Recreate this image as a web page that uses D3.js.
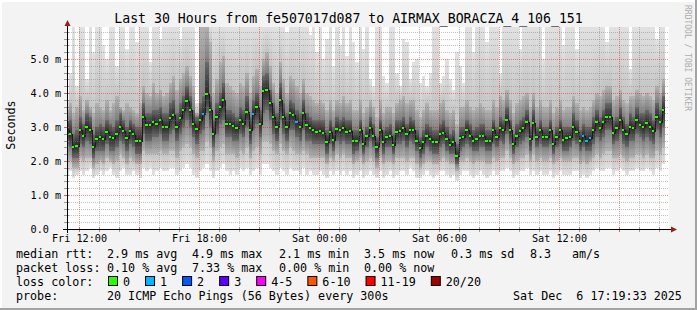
<!DOCTYPE html>
<html>
<head>
<meta charset="utf-8">
<script src="https://cdn.jsdelivr.net/npm/d3@7/dist/d3.min.js"></script>
<style>
body { margin: 0; background: #f3f3f3; }
svg { display: block; font-family: "DejaVu Sans Mono", monospace; }
text { white-space: pre; }
</style>
</head>
<body>
<svg id="chart" width="697" height="310"></svg>
<script>
'use strict';

var title = 'Last 30 Hours from fe507017d087 to AIRMAX_BORACZA_4_106_151';
var unitLabel = 'Seconds';
var watermark = 'RRDTOOL / TOBI OETIKER';

// first 10 minute step (UTC), one value per step below
var firstStep = Date.UTC(2025, 11, 5, 11, 29);
var stepMinutes = 10;
var viewStart = Date.UTC(2025, 11, 5, 11, 24);
var viewEnd = Date.UTC(2025, 11, 6, 17, 24);

// median rtt in ms
var median = [
	2.9,2.8,2.4,2.45,2.9,2.75,3.0,2.9,2.4,2.65,2.7,2.65,2.85,2.7,2.68,2.8,3.0,2.88,2.68,2.88,2.78,2.6,2.6,3.3,3.05,3.06,3.15,3.1,3.2,3.0,
	3.0,3.26,3.35,3.0,3.26,3.5,3.75,3.5,3.1,2.95,3.2,3.38,3.96,3.5,2.8,3.3,3.6,3.8,3.1,3.1,3.02,2.97,3.22,3.1,3.45,2.9,3.38,3.6,3.1,4.05,
	4.1,3.7,3.3,3.0,3.8,3.3,3.0,3.4,3.35,3.15,3.0,3.4,3.05,2.97,2.9,2.85,2.88,2.83,2.55,2.85,2.63,2.95,2.9,2.97,2.85,2.88,2.58,2.6,2.9,2.5,
	2.73,2.97,2.75,2.4,2.9,2.55,2.7,2.73,2.48,2.85,2.88,2.97,2.78,2.92,2.9,2.6,2.38,2.55,2.75,2.65,2.55,2.55,2.8,2.83,2.65,2.48,2.57,2.15,2.68,2.72,
	2.9,2.73,2.6,2.65,2.75,2.75,2.6,2.6,2.9,2.7,2.97,2.9,3.2,2.9,2.5,2.75,2.88,2.97,3.15,2.65,3.13,2.7,2.9,2.7,2.7,2.9,2.5,2.7,2.9,2.63,
	2.68,2.7,3.0,2.85,2.6,2.73,2.6,2.68,2.9,3.15,2.97,3.15,3.3,3.3,2.82,2.97,3.2,2.9,2.78,3.0,2.97,3.2,3.06,3.0,3.13,3.0,2.88,3.3,3.15,3.5
];

// lost pings (of 20) per step
var lossCount = [
	0,0,0,0,0,0,0,0,0,0,0,0,0,0,0,0,0,0,0,0,0,0,0,0,0,0,0,0,0,0,
	0,0,0,0,0,0,0,0,0,0,0,1,0,0,0,0,0,0,0,0,0,0,0,0,0,0,1,0,0,0,
	0,0,0,0,0,0,0,0,0,1,0,0,0,0,0,0,0,0,0,0,0,0,0,0,0,0,0,0,0,0,
	0,0,0,0,0,0,0,0,0,0,0,0,0,0,0,0,0,0,0,0,0,0,0,0,0,0,0,0,0,0,
	0,0,0,0,0,0,0,0,0,0,0,0,0,0,0,0,0,0,0,0,0,0,0,0,0,0,0,0,0,0,
	0,0,0,0,0,1,1,1,0,0,0,0,0,0,0,0,0,0,0,0,0,0,0,0,0,0,0,0,0,0
];

// smoke: fastest / slowest ping per step
var minRtt = [
	1.6,1.7,1.5,1.6,1.7,1.6,1.7,1.8,1.5,1.6,1.7,1.6,1.7,1.8,1.6,1.5,1.7,1.8,1.6,1.6,1.7,1.6,1.5,1.8,1.7,1.8,1.6,1.7,1.8,1.7,
	1.7,1.8,1.8,1.6,1.7,1.8,1.9,1.8,1.6,1.5,1.7,1.8,1.9,1.7,1.5,1.7,1.8,1.9,1.7,1.6,1.7,1.6,1.8,1.7,1.8,1.6,1.7,1.8,1.6,1.9,
	1.9,1.8,1.7,1.6,1.8,1.7,1.6,1.8,1.7,1.7,1.6,1.8,1.6,1.7,1.6,1.6,1.7,1.6,1.5,1.7,1.6,1.7,1.6,1.7,1.6,1.7,1.5,1.6,1.7,1.5,
	1.6,1.7,1.6,1.5,1.7,1.5,1.6,1.7,1.5,1.6,1.7,1.7,1.6,1.8,1.7,1.5,1.5,1.6,1.7,1.6,1.5,1.6,1.7,1.7,1.6,1.5,1.6,1.4,1.6,1.7,
	1.7,1.6,1.5,1.6,1.7,1.6,1.5,1.6,1.7,1.6,1.7,1.7,1.8,1.7,1.5,1.6,1.7,1.7,1.8,1.6,1.7,1.6,1.7,1.6,1.6,1.7,1.5,1.6,1.7,1.6,
	1.6,1.6,1.7,1.7,1.5,1.6,1.5,1.6,1.7,1.8,1.7,1.7,1.8,1.8,1.6,1.7,1.8,1.7,1.6,1.7,1.7,1.8,1.7,1.7,1.8,1.7,1.6,1.8,1.7,1.9
];
var maxRtt = [
	3.8,4.6,6,4.2,6,6,4.4,6,5.2,6,6,5.4,5.0,6,6,4.8,6,6,5.3,6,6,5.5,6,6,6,4.9,6,6,5.6,6,
	6,6,6,6,5.6,6,6,6,6,3.7,6,6,6,6,6,6,6,6,6,6,6,6,6,6,6,6,6,6,6,6,
	6,6,6,6,6,6,5.8,6,6,6,6,6,6,5.7,6,5.2,6,5.0,5.6,6,4.8,6,5.4,6,5.1,6,5.5,4.9,6,5.3,
	6,4.4,4.2,6,6,4.5,4.3,6,6,4.6,4.2,5.6,5.5,4.4,4.9,5.0,4.3,4.5,4.2,4.6,6,6,4.3,4.5,5.0,4.4,4.1,5.2,4.8,4.3,
	6,6,5.2,6,6,6,5.5,6,6,6,4.6,6,6,6,6,6,5.3,6,6,6,6,6,6,5.0,6,6,6,6,6,5.4,
	6,6,6,5.3,6,6,6,6,6,6,6,6,5.5,6,6,6,6,6,6,4.7,6,6,6,6,6,6,6,5.6,6,6
];
// 2nd and 19th ping
var p10 = [
	2.0,2.0,1.8,1.8,2.1,2.0,2.1,2.1,1.8,1.9,2.0,1.9,2.1,2.0,1.9,2.0,2.2,2.1,1.9,2.1,2.0,1.9,1.9,2.3,2.2,2.2,2.2,2.2,2.3,2.2,
	2.2,2.3,2.3,2.1,2.3,2.4,2.5,2.4,2.2,2.1,2.3,2.3,2.6,2.4,2.0,2.3,2.4,2.5,2.2,2.2,2.2,2.1,2.3,2.2,2.4,2.1,2.3,2.4,2.2,2.6,
	2.6,2.5,2.3,2.2,2.5,2.3,2.2,2.4,2.3,2.2,2.2,2.3,2.2,2.1,2.1,2.1,2.1,2.1,1.9,2.1,2.0,2.2,2.1,2.2,2.1,2.1,1.9,2.0,2.1,1.9,
	2.0,2.1,2.0,1.8,2.1,1.9,2.0,2.0,1.9,2.1,2.1,2.1,2.0,2.1,2.1,1.9,1.8,1.9,2.0,2.0,1.9,1.9,2.0,2.1,2.0,1.9,1.9,1.7,2.0,2.0,
	2.1,2.0,1.9,2.0,2.0,2.0,1.9,1.9,2.1,2.0,2.1,2.1,2.3,2.1,1.9,2.0,2.1,2.1,2.2,2.0,2.2,2.0,2.1,2.0,2.0,2.1,1.9,2.0,2.1,2.0,
	2.0,2.0,2.1,2.1,1.9,2.0,1.9,2.0,2.1,2.2,2.1,2.2,2.3,2.3,2.1,2.1,2.2,2.1,2.0,2.1,2.1,2.2,2.2,2.1,2.2,2.1,2.1,2.3,2.2,2.4
];
var p90 = [
	3.5,3.7,3.4,3.6,3.9,3.5,3.8,3.6,3.4,3.7,3.6,3.5,3.8,3.5,3.7,3.9,3.6,3.5,3.7,3.6,3.5,3.4,3.7,4.2,4.0,3.9,4.3,4.0,4.1,3.9,
	4.0,4.3,4.5,4.1,4.4,4.6,4.8,4.5,4.2,3.4,6,6,6,5.5,4.0,4.4,4.9,5.1,4.3,4.2,4.1,4.0,4.3,4.2,4.6,4.0,4.5,4.7,4.2,5.0,
	5.2,4.8,4.3,4.0,4.9,4.4,4.0,4.5,4.4,4.2,4.0,4.4,4.0,3.9,3.8,3.7,3.8,3.7,3.5,3.8,3.5,3.8,3.7,3.9,3.7,3.8,3.5,3.5,3.8,3.4,
	3.6,3.8,3.6,3.3,3.8,3.4,3.6,3.6,3.4,3.7,3.8,3.9,3.7,3.8,3.8,3.5,3.3,3.5,3.7,3.5,3.5,3.5,3.7,3.8,3.5,3.4,3.5,3.1,3.6,3.6,
	3.8,3.6,3.5,3.6,3.7,3.6,3.5,3.5,3.8,3.6,3.9,3.8,4.1,3.8,3.4,3.7,3.8,3.9,4.0,3.6,4.0,3.6,3.8,3.6,3.6,3.8,3.4,3.6,3.8,3.5,
	3.6,3.6,3.9,3.7,3.5,3.6,3.5,3.6,3.8,4.0,3.9,4.1,4.2,4.2,3.8,3.9,4.1,3.8,3.7,3.9,3.9,4.1,4.0,3.9,4.0,3.9,3.8,4.2,4.0,4.4
];
// pings around the median
var p30 = [
	2.5,2.4,2.1,2.1,2.5,2.4,2.6,2.5,2.1,2.3,2.3,2.3,2.5,2.3,2.3,2.4,2.6,2.5,2.3,2.5,2.4,2.2,2.2,2.8,2.6,2.6,2.7,2.7,2.8,2.6,
	2.6,2.8,2.9,2.6,2.8,3.0,3.2,3.0,2.7,2.5,2.8,2.9,3.4,3.0,2.4,2.8,3.1,3.2,2.7,2.7,2.6,2.6,2.8,2.7,3.0,2.5,2.9,3.1,2.7,3.4,
	3.5,3.2,2.8,2.6,3.2,2.8,2.6,2.9,2.9,2.7,2.6,2.9,2.6,2.6,2.5,2.5,2.5,2.5,2.2,2.5,2.3,2.6,2.5,2.6,2.5,2.5,2.2,2.3,2.5,2.2,
	2.4,2.6,2.4,2.1,2.5,2.2,2.4,2.4,2.2,2.5,2.5,2.6,2.4,2.6,2.5,2.3,2.1,2.2,2.4,2.3,2.2,2.2,2.4,2.5,2.3,2.2,2.2,1.9,2.3,2.4,
	2.5,2.4,2.3,2.3,2.4,2.4,2.3,2.3,2.5,2.4,2.6,2.5,2.8,2.5,2.2,2.4,2.5,2.6,2.7,2.3,2.7,2.4,2.5,2.4,2.4,2.5,2.2,2.4,2.5,2.3,
	2.3,2.4,2.6,2.5,2.3,2.4,2.3,2.3,2.5,2.7,2.6,2.7,2.9,2.9,2.5,2.6,2.8,2.5,2.4,2.6,2.6,2.8,2.7,2.6,2.7,2.6,2.5,2.9,2.7,3.0
];
var p70 = [
	3.2,3.2,2.8,2.9,3.3,3.1,3.4,3.3,2.8,3.0,3.1,3.0,3.2,3.1,3.0,3.2,3.4,3.2,3.0,3.2,3.1,3.0,3.0,3.7,3.4,3.4,3.5,3.5,3.6,3.4,
	3.4,3.7,3.8,3.4,3.7,3.9,4.2,3.9,3.5,3.3,3.7,3.9,4.9,3.9,3.2,3.7,4.0,4.3,3.5,3.5,3.4,3.3,3.6,3.5,3.9,3.3,3.8,4.0,3.5,4.5,
	4.6,4.1,3.7,3.4,4.3,3.7,3.4,3.8,3.7,3.5,3.4,3.8,3.4,3.3,3.2,3.2,3.2,3.2,2.9,3.2,3.0,3.3,3.2,3.3,3.2,3.2,2.9,2.9,3.2,2.8,
	3.0,3.3,3.1,2.7,3.2,2.9,3.0,3.1,2.8,3.2,3.2,3.3,3.1,3.3,3.2,2.9,2.7,2.9,3.1,3.0,2.9,2.9,3.1,3.2,3.0,2.8,2.9,2.5,3.0,3.0,
	3.2,3.1,2.9,3.0,3.1,3.1,2.9,2.9,3.2,3.0,3.3,3.2,3.6,3.2,2.8,3.1,3.2,3.3,3.5,3.0,3.5,3.0,3.2,3.0,3.0,3.2,2.8,3.0,3.2,3.0,
	3.0,3.0,3.4,3.2,2.9,3.1,3.0,3.0,3.3,3.5,3.3,3.5,3.7,3.7,3.2,3.3,3.6,3.3,3.1,3.4,3.3,3.6,3.4,3.4,3.5,3.4,3.2,3.7,3.5,3.9
];

var yTicks = [0, 1, 2, 3, 4, 5];
var yMax = 5.9;

var rttSummary = ['2.9 ms avg', '4.9 ms max', '2.1 ms min', '3.5 ms now', '0.3 ms sd'];
var rttRate = ['8.3', 'am/s'];
var lossSummary = ['0.10 % avg', '7.33 % max', '0.00 % min', '0.00 % now'];
var lossLabels = ['0', '1', '2', '3', '4-5', '6-10', '11-19', '20/20'];
var lossUpper = [0, 1, 2, 3, 5, 10, 19, 20];
var lossColors = ['#26ff00', '#00b8ff', '#0059ff', '#5e00ff', '#ff00ff', '#ff5500', '#ff0000', '#a00000'];
var probeText = '20 ICMP Echo Pings (56 Bytes) every 300s';
var stampText = 'Sat Dec  6 17:19:33 2025';

var svg = d3.select('#chart');
var W = 697, H = 310;
var plot = {left: 67, right: 667, top: 27, bottom: 229};
var stepMs = stepMinutes * 60000;
var charW = 7.05;

var xscale = d3.scaleUtc()
	.domain([new Date(viewStart), new Date(viewEnd)])
	.range([plot.left, plot.right]);

var yscale = d3.scaleLinear()
	.domain([0, yMax])
	.range([plot.bottom, plot.bottom - yMax * 34]);

var times = median.map(function(d, i) {
	return new Date(firstStep + i * stepMs);
});

var lossColor = function(n) {
	for (var k = 0; k < lossUpper.length; k++) {
		if (n <= lossUpper[k]) return lossColors[k];
	}
	return lossColors[lossColors.length - 1];
};

// frame
svg.append('rect').attr('width', W).attr('height', H).attr('fill', '#f3f3f3');
svg.append('rect').attr('x', 0).attr('y', 0).attr('width', W).attr('height', 2).attr('fill', '#ffffff');
svg.append('rect').attr('x', 0).attr('y', 0).attr('width', 2).attr('height', H).attr('fill', '#ffffff');
svg.append('rect').attr('x', W - 2).attr('y', 0).attr('width', 2).attr('height', H).attr('fill', '#a3a3a3');
svg.append('rect').attr('x', 0).attr('y', H - 2).attr('width', W).attr('height', 2).attr('fill', '#a3a3a3');

// canvas
svg.append('rect')
	.attr('x', plot.left).attr('y', plot.top)
	.attr('width', plot.right - plot.left + 2).attr('height', plot.bottom - plot.top)
	.attr('fill', '#ffffff');

var defs = svg.append('defs');
defs.append('clipPath').attr('id', 'plot-clip')
	.append('rect')
	.attr('x', plot.left).attr('y', plot.top)
	.attr('width', plot.right - plot.left + 2).attr('height', plot.bottom - plot.top);

var x0 = function(t) { return Math.round(xscale(t - stepMs)); };
var x1 = function(t) { return Math.round(xscale(t)); };

// smoke, each layer fades from its inner (dark) edge to its outer (light) edge
var layers = [
	{outer: maxRtt, inner: p90, cOut: '#e2e2e2', cIn: '#c4c4c4'},
	{outer: minRtt, inner: p10, cOut: '#e2e2e2', cIn: '#c4c4c4'},
	{outer: p90, inner: p70, cOut: '#b4b4b4', cIn: '#7e7e7e'},
	{outer: p10, inner: p30, cOut: '#b4b4b4', cIn: '#7e7e7e'},
	{outer: p70, inner: median, cOut: '#6a6a6a', cIn: '#2a2a2a'},
	{outer: p30, inner: median, cOut: '#6a6a6a', cIn: '#2a2a2a'}
];

layers.forEach(function(l, k) {
	var up = k % 2 === 0;
	var grad = defs.append('linearGradient')
		.attr('id', 'fade' + k)
		.attr('x1', 0).attr('y1', 0).attr('x2', 0).attr('y2', 1);
	grad.append('stop').attr('offset', 0).attr('stop-color', up ? l.cOut : l.cIn);
	grad.append('stop').attr('offset', 1).attr('stop-color', up ? l.cIn : l.cOut);
});

var smoke = svg.append('g')
	.attr('clip-path', 'url(#plot-clip)')
	.attr('shape-rendering', 'crispEdges');

layers.forEach(function(l, k) {
	var top = function(i) { return Math.round(yscale(Math.max(l.outer[i], l.inner[i]))); };
	var bot = function(i) { return Math.round(yscale(Math.min(l.outer[i], l.inner[i]))); };
	smoke.append('g').selectAll('rect')
		.data(times)
	.enter().append('rect')
		.attr('x', x0)
		.attr('width', function(t) { return x1(t) - x0(t); })
		.attr('y', function(t, i) { return top(i); })
		.attr('height', function(t, i) { return Math.max(0, bot(i) - top(i)); })
		.attr('fill', 'url(#fade' + k + ')');
});

var stepLine = d3.line()
	.curve(d3.curveStepBefore)
	.x(function(t) { return x1(t); })
	.y(function(t, i) { return Math.round(yscale(median[i])); });

smoke.append('path')
	.attr('d', stepLine(times))
	.attr('fill', 'none')
	.attr('stroke', '#1c1c1c')
	.attr('stroke-width', 1);

// grid
var grid = svg.append('g').attr('shape-rendering', 'crispEdges');
var minorColor = 'rgba(120,120,120,0.45)';
var majorColor = 'rgba(225,0,0,0.42)';

var hours = d3.utcHour.every(1).range(xscale.domain()[0], xscale.domain()[1]);
hours.forEach(function(h) {
	var major = h.getUTCHours() % 3 === 0;
	grid.append('line')
		.attr('x1', xscale(h) + 0.5).attr('x2', xscale(h) + 0.5)
		.attr('y1', plot.top).attr('y2', plot.bottom)
		.attr('stroke', major ? majorColor : minorColor)
		.attr('stroke-dasharray', '1,1');
	grid.append('line')
		.attr('x1', xscale(h) + 0.5).attr('x2', xscale(h) + 0.5)
		.attr('y1', plot.bottom - 2).attr('y2', plot.bottom + 3)
		.attr('stroke', major ? '#e06060' : '#9a9a9a');
});

d3.range(1, 30).forEach(function(k) {
	var v = k / 5;
	var major = k % 5 === 0;
	var yy = Math.round(yscale(v)) + 0.5;
	grid.append('line')
		.attr('x1', plot.left).attr('x2', plot.right + 2)
		.attr('y1', yy).attr('y2', yy)
		.attr('stroke', major ? majorColor : minorColor)
		.attr('stroke-dasharray', '1,1');
	grid.append('line')
		.attr('x1', plot.left - 3).attr('x2', plot.left + 2)
		.attr('y1', yy).attr('y2', yy)
		.attr('stroke', major ? '#e06060' : '#9a9a9a');
});

// median coloured by loss
svg.append('g')
	.attr('clip-path', 'url(#plot-clip)')
	.attr('shape-rendering', 'crispEdges')
	.selectAll('rect')
	.data(times)
.enter().append('rect')
	.attr('x', x0)
	.attr('width', function(t) { return Math.max(2, x1(t) - x0(t) - 1); })
	.attr('y', function(t, i) { return Math.round(yscale(median[i])) - 1; })
	.attr('height', 2)
	.attr('fill', function(t, i) { return lossColor(lossCount[i]); });

// axes
var axisColor = '#000000';
svg.append('line')
	.attr('x1', plot.left - 4).attr('x2', plot.right + 4)
	.attr('y1', plot.bottom + 0.5).attr('y2', plot.bottom + 0.5)
	.attr('stroke', axisColor);
svg.append('line')
	.attr('x1', plot.left + 0.5).attr('x2', plot.left + 0.5)
	.attr('y1', plot.bottom + 4).attr('y2', plot.top - 2)
	.attr('stroke', axisColor);
svg.append('path')
	.attr('d', d3.line()([[plot.left + 0.5, 20], [plot.left - 2.5, 26], [plot.left + 3.5, 26]]) + 'Z')
	.attr('fill', '#9b1c1c');
svg.append('path')
	.attr('d', d3.line()([[plot.right + 10, plot.bottom + 0.5], [plot.right + 4, plot.bottom - 2.5], [plot.right + 4, plot.bottom + 3.5]]) + 'Z')
	.attr('fill', '#9b1c1c');

var xAxis = svg.append('g')
	.attr('transform', 'translate(0,' + plot.bottom + ')')
	.call(d3.axisBottom(xscale)
		.ticks(d3.utcHour.every(6))
		.tickFormat(d3.utcFormat('%a %H:%M'))
		.tickSize(0)
		.tickPadding(5.5));
xAxis.select('.domain').remove();
xAxis.selectAll('text')
	.style('font-family', '"DejaVu Sans Mono", monospace')
	.style('font-size', '10.2px')
	.attr('fill', '#000');

var yAxis = svg.append('g')
	.attr('transform', 'translate(' + plot.left + ',0)')
	.call(d3.axisLeft(yscale)
		.tickValues(yTicks)
		.tickFormat(function(d) { return d === 0 ? '0.0' : d.toFixed(1) + ' m'; })
		.tickSize(0));
yAxis.select('.domain').remove();
yAxis.selectAll('text')
	.attr('x', 30.5 - plot.left)
	.attr('text-anchor', 'start')
	.style('font-family', '"DejaVu Sans Mono", monospace')
	.style('font-size', '10.2px')
	.attr('fill', '#000');

// titles
svg.append('text')
	.attr('x', W / 2).attr('y', 23)
	.attr('text-anchor', 'middle')
	.style('font-size', '13.2px')
	.attr('fill', '#000')
	.text(title);

svg.append('text')
	.attr('transform', 'translate(15,' + ((plot.top + plot.bottom) / 2 - 3) + ') rotate(-90)')
	.attr('text-anchor', 'middle')
	.style('font-size', '11.7px')
	.attr('fill', '#000')
	.text(unitLabel);

svg.append('text')
	.attr('transform', 'translate(685,5) rotate(90)')
	.style('font-size', '8px')
	.attr('fill', '#acacac')
	.text(watermark);

// legend
var legend = svg.append('g')
	.style('font-size', '11.7px')
	.attr('fill', '#000');
var rowY = [258, 272, 286, 300];
var cols = [107, 192, 279, 364, 451];

var put = function(x, y, s) {
	legend.append('text').attr('x', x).attr('y', y).text(s);
};

put(16, rowY[0], 'median rtt:');
rttSummary.forEach(function(s, i) { put(cols[i], rowY[0], s); });
put(530, rowY[0], rttRate[0]);
put(572, rowY[0], rttRate[1]);

put(16, rowY[1], 'packet loss:');
lossSummary.forEach(function(s, i) { put(cols[i], rowY[1], s); });

put(16, rowY[2], 'loss color:');
var bx = 108;
lossLabels.forEach(function(s, i) {
	legend.append('rect')
		.attr('x', bx + 0.5).attr('y', rowY[2] - 9.5)
		.attr('width', 9).attr('height', 9)
		.attr('fill', lossColors[i])
		.attr('stroke', '#000')
		.attr('stroke-width', 1);
	put(bx + 15, rowY[2], s);
	bx = bx + 15 + s.length * charW + 15;
});

put(16, rowY[3], 'probe:');
put(107, rowY[3], probeText);
put(513, rowY[3], stampText);
</script>
</body>
</html>
